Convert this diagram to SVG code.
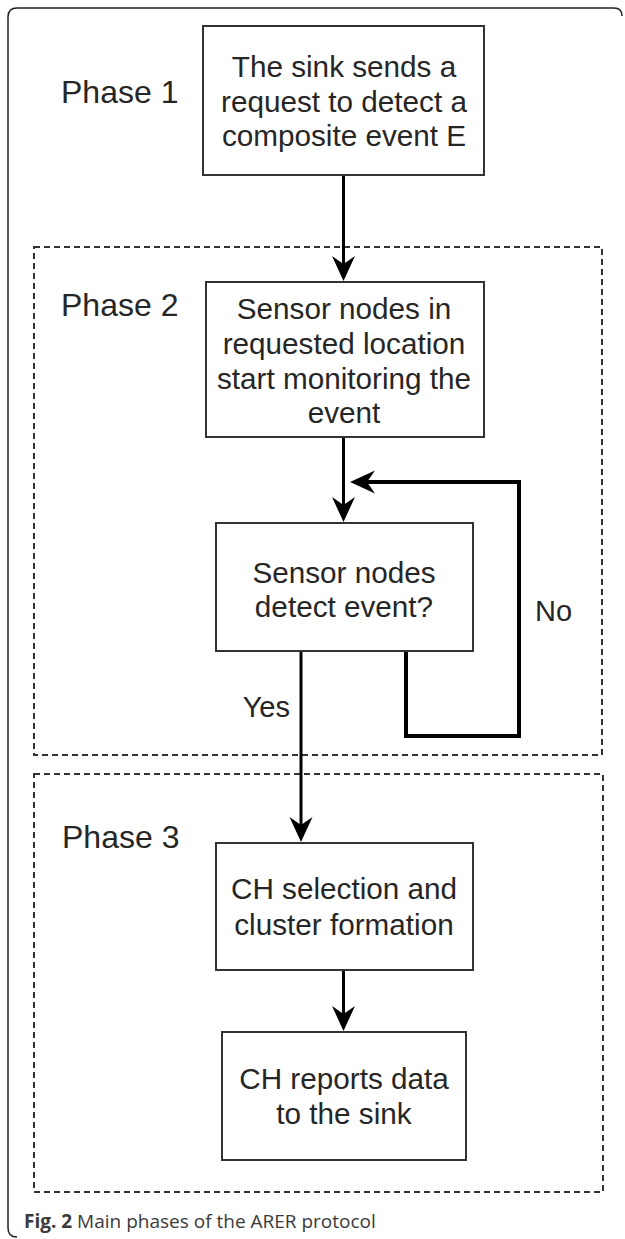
<svg xmlns="http://www.w3.org/2000/svg" width="625" height="1239" viewBox="0 0 625 1239">
<style>
.box{fill:#fff;stroke:#333;stroke-width:2}
.phase{fill:none;stroke:#333;stroke-width:2;stroke-dasharray:6 4}
.t{font-family:"Liberation Sans",Arial,sans-serif;font-size:29.7px;fill:#262626;text-anchor:middle}
.ph{font-family:"Liberation Sans",Arial,sans-serif;font-size:32px;fill:#262626}
.lbl{font-family:"Liberation Sans",Arial,sans-serif;font-size:29px;fill:#262626}
.edge{fill:none;stroke:#000;stroke-width:3}
.cap{font-family:"Open Sans","Noto Sans",sans-serif;font-size:19px;fill:#3a3a3a}
</style>
<defs>
<marker id="ah" markerUnits="userSpaceOnUse" viewBox="-9 -12 27 24" refX="0" refY="0" markerWidth="27" markerHeight="24" orient="auto">
<path d="M17,0 L-8,-11.5 L0,0 L-8,11.5 Z" fill="#000"/>
</marker>
</defs>
<rect width="625" height="1239" fill="#fff"/>
<path d="M17,1237 Q8,1237 8,1228 V17 Q8,8 17,8 H614 Q622,8 622,16" fill="none" stroke="#222" stroke-width="1.5"/>
<g id="phase2"><rect class="phase" x="34" y="247" width="568" height="508"/><text class="ph" x="61" y="316">Phase 2</text></g>
<g id="phase3"><rect class="phase" x="34" y="774" width="569" height="418"/><text class="ph" x="62" y="848">Phase 3</text></g>
<g id="phase1"><text class="ph" x="61" y="103">Phase 1</text></g>
<g id="connectors">
<line class="edge" x1="343.5" y1="175" x2="343.5" y2="264" marker-end="url(#ah)"/>
<line class="edge" x1="343.5" y1="437" x2="343.5" y2="505" marker-end="url(#ah)"/>
<path class="edge" style="stroke-width:4" d="M406,651 V736 H519 V482 H367" marker-end="url(#ah)"/>
<line class="edge" x1="301" y1="651" x2="301" y2="825" marker-end="url(#ah)"/>
<line class="edge" x1="343.5" y1="970" x2="343.5" y2="1014" marker-end="url(#ah)"/>
<text class="lbl" x="290" y="717" text-anchor="end">Yes</text>
<text class="lbl" x="535" y="621">No</text>
</g>
<g id="n1"><rect class="box" x="203" y="26" width="281" height="149"/>
<text class="t" x="344" y="77">The sink sends a</text><text class="t" x="344" y="112">request to detect a</text><text class="t" x="344" y="146">composite event E</text></g>
<g id="n2"><rect class="box" x="206" y="282" width="278" height="155"/>
<text class="t" x="344" y="319">Sensor nodes in</text><text class="t" x="344" y="354">requested location</text><text class="t" x="344" y="389">start monitoring the</text><text class="t" x="344" y="423">event</text></g>
<g id="n3"><rect class="box" x="216" y="523" width="257" height="128"/>
<text class="t" x="344" y="583">Sensor nodes</text><text class="t" x="344" y="617">detect event?</text></g>
<g id="n4"><rect class="box" x="216" y="843" width="257" height="127"/>
<text class="t" x="344" y="899">CH selection and</text><text class="t" x="344" y="935">cluster formation</text></g>
<g id="n5"><rect class="box" x="222" y="1032" width="244" height="128"/>
<text class="t" x="344" y="1089">CH reports data</text><text class="t" x="344" y="1124">to the sink</text></g>
<text class="cap" x="24" y="1228"><tspan font-weight="bold">Fig. 2</tspan> Main phases of the ARER protocol</text>
</svg>
